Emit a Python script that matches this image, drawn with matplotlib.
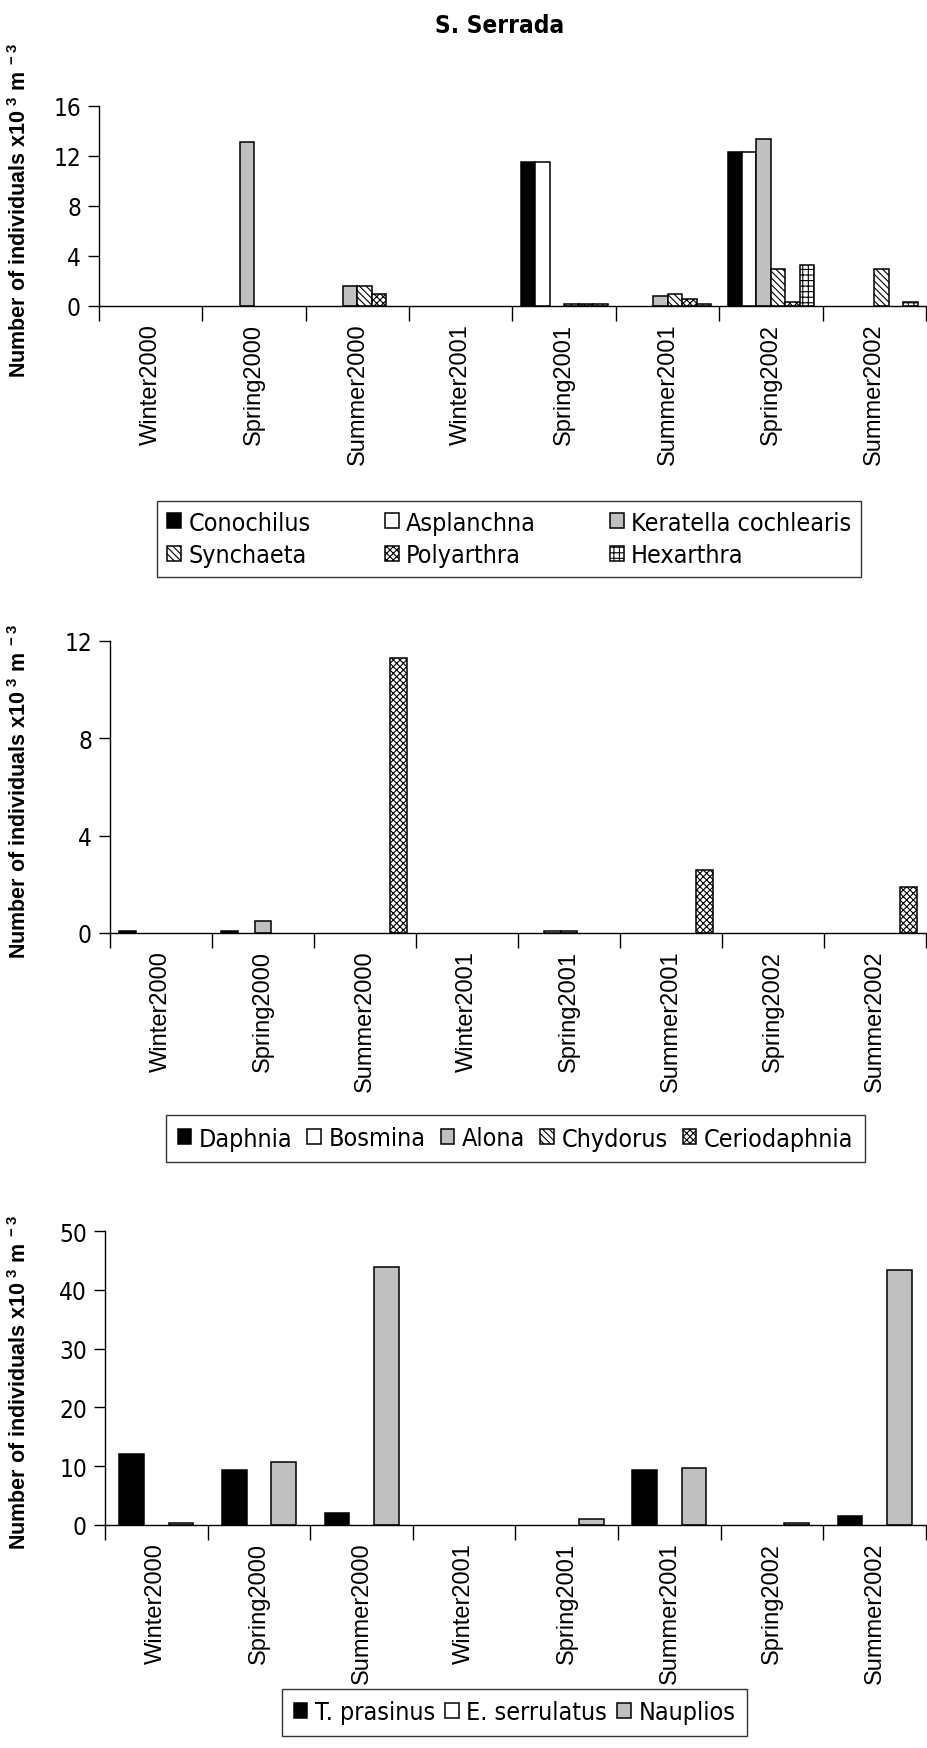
import matplotlib
matplotlib.use('Agg')
import matplotlib.pyplot as plt
import numpy as np

# fonts: condensed for horizontal text, regular for rotated text
NARROW = ['Liberation Sans Narrow', 'DejaVu Sans']
REGULAR = ['Liberation Sans', 'DejaVu Sans']
plt.rcParams['font.family'] = NARROW
plt.rcParams['font.stretch'] = 'condensed'
plt.rcParams['mathtext.fontset'] = 'custom'
plt.rcParams['mathtext.rm'] = 'Liberation Sans:bold'
plt.rcParams['mathtext.it'] = 'Liberation Sans:bold'
plt.rcParams['mathtext.bf'] = 'Liberation Sans:bold'
plt.rcParams['hatch.linewidth'] = 0.8

# data
seasons = ['Winter2000', 'Spring2000', 'Summer2000', 'Winter2001',
           'Spring2001', 'Summer2001', 'Spring2002', 'Summer2002']

rot_names = ['Conochilus', 'Asplanchna', 'Keratella cochlearis',
             'Synchaeta', 'Polyarthra', 'Hexarthra']
conochilus = [0, 0, 0, 0, 11.5, 0, 12.3, 0]
asplanchna = [0, 0, 0, 0, 11.5, 0, 12.3, 0]
keratella = [0, 13.1, 1.6, 0, 0, 0.8, 13.4, 0]
synchaeta = [0, 0, 1.6, 0, 0.15, 1.0, 3.0, 3.0]
polyarthra = [0, 0, 1.0, 0, 0.15, 0.6, 0.3, 0]
hexarthra = [0, 0, 0, 0, 0.15, 0.2, 3.3, 0.3]

cla_names = ['Daphnia', 'Bosmina', 'Alona', 'Chydorus', 'Ceriodaphnia']
daphnia = [0.08, 0.08, 0, 0, 0, 0, 0, 0]
bosmina = [0, 0, 0, 0, 0.08, 0, 0, 0]
alona = [0, 0.5, 0, 0, 0.08, 0, 0, 0]
chydorus = [0, 0, 0, 0, 0, 0, 0, 0]
ceriodaphnia = [0, 0, 11.3, 0, 0, 2.6, 0, 1.9]

cop_names = ['T. prasinus', 'E. serrulatus', 'Nauplios']
tprasinus = [12.0, 9.4, 2.0, 0, 0, 9.4, 0, 1.6]
eserrulatus = [0, 0, 0, 0, 0, 0, 0, 0]
nauplios = [0.4, 10.7, 43.9, 0, 1.1, 9.7, 0.4, 43.3]

GRAY = '#C0C0C0'
S_BLACK = ('black', None)
S_WHITE = ('white', None)
S_GRAY = (GRAY, None)
S_DIAG = ('white', '\\' * 5)
S_CROSS = ('white', 'x' * 5)
S_PLUS = ('white', '+' * 3)

W, H = 928, 1749
fig = plt.figure(figsize=(W / 100, H / 100), dpi=100)


def panel(rect, series, names, styles, width, ymax, step):
    ax = fig.add_axes(rect)
    x = np.arange(len(seasons))
    n = len(series)
    handles = []
    for i, (vals, name, st) in enumerate(zip(series, names, styles)):
        off = (i - (n - 1) / 2) * width
        v = np.array(vals, dtype=float)
        v[v == 0] = np.nan  # zero bars are not drawn in the original
        b = ax.bar(x + off, v, width, color=st[0], hatch=st[1],
                   edgecolor='black', linewidth=1.1, label=name)
        handles.append(b)
    ax.set_xlim(-0.5, len(seasons) - 0.5)
    ax.set_ylim(0, ymax)
    ax.set_yticks(np.arange(0, ymax + 0.1, step))
    ax.set_xticks(np.arange(-0.5, len(seasons), 1))
    ax.set_xticklabels([])
    ax.set_xticks(x, labels=seasons, minor=True)
    ax.tick_params(axis='x', which='major', length=11, width=1, direction='out')
    ax.tick_params(axis='x', which='minor', length=0, pad=12, labelrotation=90,
                   labelsize=17)
    for lbl in ax.get_xticklabels(minor=True):
        lbl.set_fontfamily(REGULAR)
        lbl.set_fontstretch('normal')
    ax.tick_params(axis='y', length=8, width=1, direction='out', labelsize=17.5, pad=5)
    for s in ['top', 'right']:
        ax.spines[s].set_visible(False)
    for s in ['left', 'bottom']:
        ax.spines[s].set_linewidth(1)
    # y label
    y0, h = rect[1], rect[3]
    fig.text(20 / W, y0 + h / 2 - 0.002, r'Number of individuals x10$^{\ 3}$ m$^{\ -3}$',
             rotation=90, ha='center', va='center', fontsize=15.5,
             fontweight='bold', family=REGULAR, fontstretch='normal')
    return ax, handles


def box(x0, x1, y0, y1):
    return (x0 / W, 1 - y1 / H, (x1 - x0) / W, (y1 - y0) / H)


# top panel: rotifers
ax1, h1 = panel([99 / W, 1 - 307 / H, (926 - 99) / W, 200 / H],
                [conochilus, asplanchna, keratella, synchaeta, polyarthra, hexarthra],
                rot_names, [S_BLACK, S_WHITE, S_GRAY, S_DIAG, S_CROSS, S_PLUS],
                0.14, 16, 4)
order = [0, 3, 1, 4, 2, 5]
leg1 = fig.legend([h1[i] for i in order], [rot_names[i] for i in order], ncol=3,
                  loc='center', bbox_to_anchor=box(145, 874, 504, 576), mode='expand',
                  fontsize=18, handlelength=0.55, handleheight=0.55, handletextpad=0.3,
                  frameon=True, fancybox=False, edgecolor='black', borderpad=0.4,
                  labelspacing=0.35, columnspacing=1.0)
leg1.get_frame().set_linewidth(1)

fig.text(500 / W, 1 - 26 / H, 'S. Serrada', ha='center', va='center',
         fontsize=17.5, fontweight='bold')

# middle panel: cladocera
ax2, h2 = panel([110 / W, 1 - 934 / H, (926 - 110) / W, 292 / H],
                [daphnia, bosmina, alona, chydorus, ceriodaphnia],
                cla_names, [S_BLACK, S_WHITE, S_GRAY, S_DIAG, S_CROSS],
                0.166, 12, 4)
leg2 = fig.legend(h2, cla_names, ncol=5, loc='center',
                  bbox_to_anchor=box(165, 866, 1115, 1164),
                  fontsize=18, handlelength=0.55, handleheight=0.55, handletextpad=0.3,
                  frameon=True, fancybox=False, edgecolor='black', borderpad=0.45,
                  columnspacing=0.6)
leg2.get_frame().set_linewidth(1)

# bottom panel: copepods
ax3, h3 = panel([105 / W, 1 - 1526 / H, (926 - 105) / W, 294 / H],
                [tprasinus, eserrulatus, nauplios],
                cop_names, [S_BLACK, S_WHITE, S_GRAY],
                0.24, 50, 10)
leg3 = fig.legend(h3, cop_names, ncol=3, loc='center',
                  bbox_to_anchor=box(292, 737, 1689, 1738),
                  fontsize=18, handlelength=0.55, handleheight=0.55, handletextpad=0.3,
                  frameon=True, fancybox=False, edgecolor='black', borderpad=0.45,
                  columnspacing=0.4)
leg3.get_frame().set_linewidth(1)

fig.savefig('out.png', dpi=100)
